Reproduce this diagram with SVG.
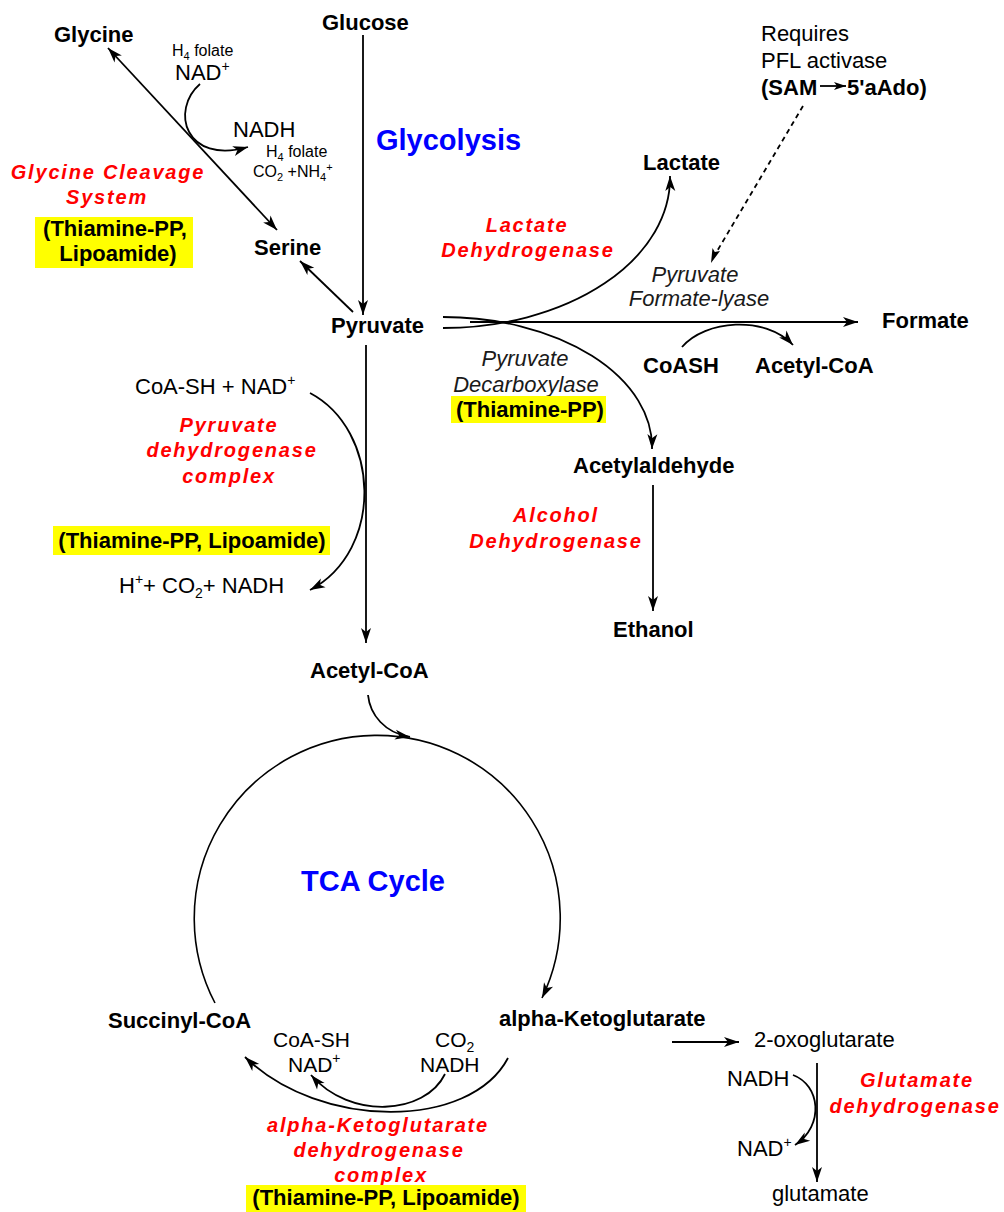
<svg xmlns="http://www.w3.org/2000/svg" width="1004" height="1212" viewBox="0 0 1004 1212">
<style>
text{font-family:"Liberation Sans",Arial,sans-serif;fill:#000}
.b{font-size:22px;font-weight:bold}
.n{font-size:22px}
.m{font-size:21px}
.s{font-size:16px}
.i{font-size:22px;font-style:italic;fill:#1a1a1a}
.r{font-size:20px;font-weight:bold;font-style:italic;fill:#ff0000;letter-spacing:1.8px}
.t{font-size:29px;font-weight:bold;fill:#0000ff}
.hl{fill:#ffff00}
.c{fill:none;stroke:#000;stroke-width:1.8}
.a{marker-end:url(#ah)}
</style>
<defs>
<marker id="ah" viewBox="-16 -6 17 12" refX="0" refY="0" markerWidth="17" markerHeight="12" markerUnits="userSpaceOnUse" orient="auto-start-reverse">
<path d="M0,0 L-15,-5 L-11,0 L-15,5 Z" fill="#000"/>
</marker>
<marker id="ahs" viewBox="-13 -5 14 10" refX="0" refY="0" markerWidth="14" markerHeight="10" markerUnits="userSpaceOnUse" orient="auto">
<path d="M0,0 L-12,-4 L-9,0 L-12,4 Z" fill="#000"/>
</marker>
</defs>
<rect width="1004" height="1212" fill="#fff"/>

<g id="connectors">
<line class="c a" x1="363" y1="35" x2="363" y2="315"/>
<line class="c a" x1="353" y1="312" x2="300" y2="261"/>
<line class="c a" x1="108" y1="48" x2="277" y2="230" style="marker-start:url(#ah)"/>
<path class="c a" d="M200,84 C170,110 185,165 248,147"/>
<line class="c a" x1="366" y1="345" x2="366" y2="643"/>
<path class="c a" d="M310,393 C380,430 385,550 310,590"/>
<path class="c a" d="M368,695 C370,715 385,733 410,737"/>
<path class="c a" d="M215,1003 A183,183 0 1 1 542,998" style="stroke-width:1.6"/>
<path class="c a" d="M443,328 A227,150 0 0 0 670,176"/>
<path class="c a" d="M443,317 A209,130 0 0 1 652,449"/>
<line class="c a" x1="470" y1="322" x2="858" y2="322"/>
<path class="c a" d="M682,347 C705,320 765,315 793,345"/>
<line class="c" x1="803" y1="106" x2="713" y2="258" stroke-dasharray="5,4"/>
<path d="M711,263 L712.5,248 L714.8,252 L720,251 Z" fill="#000"/>
<line class="c a" x1="653" y1="485" x2="653" y2="611"/>
<line class="c" x1="820" y1="86" x2="846" y2="86" style="marker-end:url(#ahs)"/>
<path class="c a" d="M508,1058 C470,1130 320,1130 245,1057"/>
<path class="c a" d="M445,1074 C425,1115 350,1120 311,1075"/>
<line class="c a" x1="672" y1="1042" x2="739" y2="1042"/>
<line class="c a" x1="817" y1="1063" x2="817" y2="1182"/>
<path class="c a" d="M793,1075 C820,1085 825,1125 795,1145"/>
</g>

<g id="glucose"><text class="b" x="322" y="30">Glucose</text></g>
<g id="glycolysis"><text class="t" x="376" y="150">Glycolysis</text></g>
<g id="glycine"><text class="b" x="54" y="42">Glycine</text></g>
<g id="gcs-cofactors-in">
<text class="s" x="172" y="56">H<tspan font-size="11" dy="4">4</tspan><tspan dy="-4"> folate</tspan></text>
<text class="n" x="175" y="80">NAD<tspan font-size="14" dy="-9">+</tspan></text>
</g>
<g id="gcs-cofactors-out">
<text class="n" x="233" y="137">NADH</text>
<text class="s" x="266" y="157">H<tspan font-size="11" dy="4">4</tspan><tspan dy="-4"> folate</tspan></text>
<text class="s" x="253" y="177">CO<tspan font-size="11" dy="4">2</tspan><tspan dy="-4"> +NH</tspan><tspan font-size="11" dy="4">4</tspan><tspan font-size="11" dy="-10">+</tspan></text>
</g>
<g id="gcs-enzyme">
<text class="r" x="108" y="179" text-anchor="middle">Glycine Cleavage</text>
<text class="r" x="107" y="204" text-anchor="middle">System</text>
<rect class="hl" x="35" y="217" width="158" height="51"/>
<text class="b" x="115" y="236" text-anchor="middle">(Thiamine-PP,</text>
<text class="b" x="118" y="261" text-anchor="middle">Lipoamide)</text>
</g>
<g id="serine"><text class="b" x="254" y="255">Serine</text></g>
<g id="pyruvate"><text class="b" x="331" y="333">Pyruvate</text></g>
<g id="lactate"><text class="b" x="643" y="170">Lactate</text></g>
<g id="ldh">
<text class="r" x="527" y="232" text-anchor="middle">Lactate</text>
<text class="r" x="528" y="257" text-anchor="middle">Dehydrogenase</text>
</g>
<g id="pfl-activase">
<text class="n" x="761" y="41">Requires</text>
<text class="n" x="761" y="68">PFL activase</text>
<text class="b" x="761" y="95">(SAM</text>
<text class="b" x="847" y="95">5'aAdo)</text>
</g>
<g id="pfl">
<text class="i" x="695" y="282" text-anchor="middle">Pyruvate</text>
<text class="i" x="699" y="306" text-anchor="middle">Formate-lyase</text>
</g>
<g id="formate"><text class="b" x="882" y="328">Formate</text></g>
<g id="coash"><text class="b" x="643" y="373">CoASH</text></g>
<g id="acetylcoa-pfl"><text class="b" x="755" y="373">Acetyl-CoA</text></g>
<g id="pdc">
<text class="i" x="525" y="366" text-anchor="middle">Pyruvate</text>
<text class="i" x="526" y="392" text-anchor="middle">Decarboxylase</text>
<rect class="hl" x="451" y="396" width="155" height="27"/>
<text class="b" x="530" y="417" text-anchor="middle">(Thiamine-PP)</text>
</g>
<g id="acetylaldehyde"><text class="b" x="573" y="473">Acetylaldehyde</text></g>
<g id="adh">
<text class="r" x="556" y="522" text-anchor="middle">Alcohol</text>
<text class="r" x="556" y="548" text-anchor="middle">Dehydrogenase</text>
</g>
<g id="ethanol"><text class="b" x="613" y="637">Ethanol</text></g>
<g id="pdh-in"><text class="n" x="135" y="394">CoA-SH + NAD<tspan font-size="14" dy="-9">+</tspan></text></g>
<g id="pdh">
<text class="r" x="229" y="432" text-anchor="middle">Pyruvate</text>
<text class="r" x="232" y="457" text-anchor="middle">dehydrogenase</text>
<text class="r" x="229" y="483" text-anchor="middle">complex</text>
<rect class="hl" x="53" y="526" width="277" height="29"/>
<text class="b" x="192" y="548" text-anchor="middle">(Thiamine-PP, Lipoamide)</text>
</g>
<g id="pdh-out"><text class="n" x="119" y="593">H<tspan font-size="14" dy="-9">+</tspan><tspan dy="9">+ CO</tspan><tspan font-size="14" dy="5">2</tspan><tspan dy="-5">+ NADH</tspan></text></g>
<g id="acetylcoa"><text class="b" x="310" y="678">Acetyl-CoA</text></g>
<g id="tca"><text class="t" x="301" y="891">TCA Cycle</text></g>
<g id="succinylcoa"><text class="b" x="108" y="1028">Succinyl-CoA</text></g>
<g id="akg"><text class="b" x="499" y="1026">alpha-Ketoglutarate</text></g>
<g id="akgdh-in">
<text class="m" x="420" y="1072">NADH</text>
<text class="m" x="435" y="1047">CO<tspan font-size="14" dy="5">2</tspan></text>
</g>
<g id="akgdh-out">
<text class="m" x="273" y="1047">CoA-SH</text>
<text class="m" x="288" y="1072">NAD<tspan font-size="14" dy="-9">+</tspan></text>
</g>
<g id="akgdh">
<text class="r" x="378" y="1132" text-anchor="middle">alpha-Ketoglutarate</text>
<text class="r" x="379" y="1157" text-anchor="middle">dehydrogenase</text>
<text class="r" x="381" y="1182" text-anchor="middle">complex</text>
<rect class="hl" x="246" y="1185" width="280" height="27"/>
<text class="b" x="386" y="1205" text-anchor="middle">(Thiamine-PP, Lipoamide)</text>
</g>
<g id="oxoglutarate"><text class="n" x="754" y="1047">2-oxoglutarate</text></g>
<g id="gdh-cofactors">
<text class="n" x="727" y="1086">NADH</text>
<text class="n" x="737" y="1156">NAD<tspan font-size="14" dy="-9">+</tspan></text>
</g>
<g id="gdh">
<text class="r" x="917" y="1087" text-anchor="middle">Glutamate</text>
<text class="r" x="915" y="1113" text-anchor="middle">dehydrogenase</text>
</g>
<g id="glutamate"><text class="n" x="772" y="1201">glutamate</text></g>
</svg>
